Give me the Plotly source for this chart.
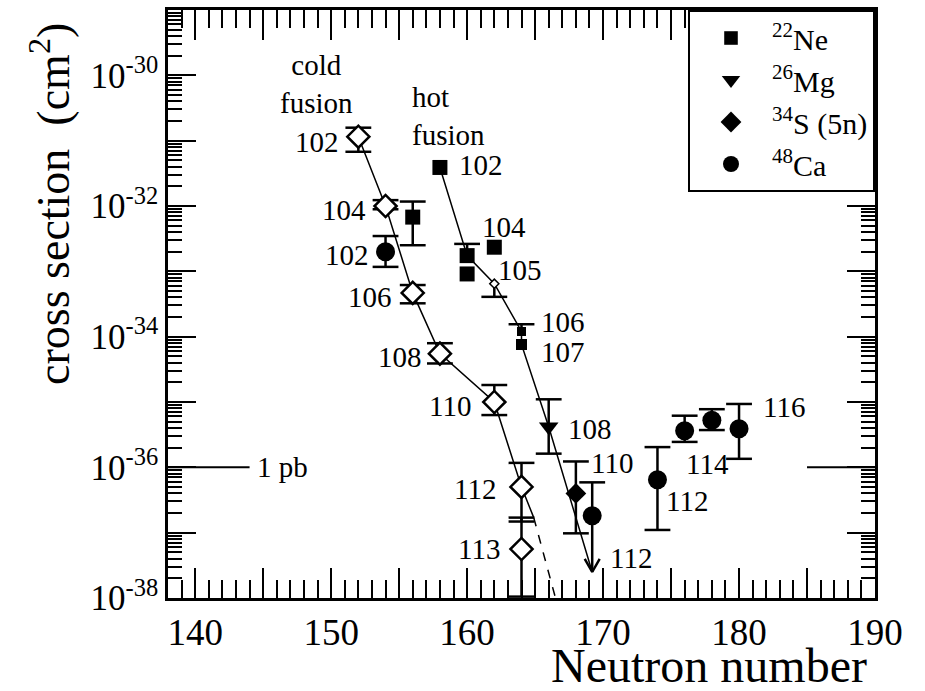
import math
import plotly.graph_objects as go

# ---------------------------------------------------------------------------
# Data: neutron number N, cross section sigma (cm^2), error limits, element Z
# (None = no limit drawn on that side)
# ---------------------------------------------------------------------------

# Cold-fusion residues (open diamonds)
cold_N = [152, 154, 156, 158, 162, 164, 164]
cold_sigma = [1.15e-31, 1.0e-32, 4.68e-34, 5.5e-35, 1.0e-35, 5.01e-37, 5.62e-38]
cold_upper = [1.58e-31, 1.23e-32, 6.17e-34, 7.94e-35, 1.82e-35, 1.17e-36, 1.70e-37]
cold_lower = [6.76e-32, 8.91e-33, 3.24e-34, 3.89e-35, 6.31e-36, 1.48e-37, 1.05e-38]
cold_Z = ["102", "104", "106", "108", "110", "112", "113"]

# 22Ne-induced reactions (filled squares)
ne_N = [156, 158, 160, 160, 162, 164, 164]
ne_sigma = [6.76e-33, 3.89e-32, 1.74e-33, 9.12e-34, 2.34e-33, 1.20e-34, 7.59e-35]
ne_upper = [1.17e-32, None, 2.63e-33, None, None, 1.55e-34, None]
ne_lower = [2.51e-33, None, None, None, None, None, None]
ne_Z = ["", "102", "", "", "104", "106", "107"]

# Element 105 point on the hot-fusion systematics
db_N = [162]
db_sigma = [6.46e-34]
db_upper = [None]
db_lower = [4.07e-34]
db_Z = ["105"]

# 26Mg-induced reaction (filled triangle)
mg_N = [166]
mg_sigma = [4.17e-36]
mg_upper = [1.10e-35]
mg_lower = [1.62e-36]
mg_Z = ["108"]

# 34S-induced reaction, 5n channel (filled diamond)
s_N = [168]
s_sigma = [3.98e-37]
s_upper = [1.23e-36]
s_lower = [9.77e-38]
s_Z = ["110"]

# 48Ca-induced reactions (filled circles)
ca_N = [154, 169.2, 174, 176, 178, 180]
ca_sigma = [2.0e-33, 1.82e-37, 6.46e-37, 3.63e-36, 5.25e-36, 3.89e-36]
ca_upper = [3.47e-33, 5.89e-37, 2.04e-36, 6.17e-36, 7.76e-36, 9.33e-36]
ca_lower = [1.17e-33, None, 1.10e-37, 2.45e-36, 3.72e-36, 1.35e-36]
ca_Z = ["102", "112", "112", "114", "", "116"]

# Open lower end of the 48Ca (Z=112) measurement at N=169.2
ca_limit_N = 169.2
ca_limit_sigma = 2.5e-38

# Systematics curves
cold_curve_N = [152, 154, 156, 158, 162, 164, 164.9]
cold_curve_sigma = [1.15e-31, 1.0e-32, 4.68e-34, 5.5e-35, 1.0e-35, 5.01e-37, 1.70e-37]
cold_extrap_N = [164.9, 166.5]
cold_extrap_sigma = [1.70e-37, 1.0e-38]

hot_curve_N = [158, 160, 162, 164, 164, 166, 169.2]
hot_curve_sigma = [3.89e-32, 1.74e-33, 6.46e-34, 1.20e-34, 7.59e-35, 4.17e-36, 2.5e-38]

PICOBARN = 1e-36  # cm^2

# ---------------------------------------------------------------------------
FONT = "Liberation Serif"
INK = "black"
CAP_HALF = 0.95      # half width of error-bar caps, in neutron-number units
BAR_WIDTH = 2.5


def bar_trace(ns, sig, up, lo):
    """Vertical error bars with caps, built from the limits (one-sided allowed)."""
    xs, ys = [], []
    for n, s, u, l in zip(ns, sig, up, lo):
        if u is None and l is None:
            continue
        top = u if u is not None else s
        bot = l if l is not None else s
        xs += [n, n, None]
        ys += [top, bot, None]
        for lim in (u, l):
            if lim is not None:
                xs += [n - CAP_HALF, n + CAP_HALF, None]
                ys += [lim, lim, None]
    return go.Scatter(x=xs, y=ys, mode="lines", line=dict(color=INK, width=BAR_WIDTH),
                      showlegend=False, hoverinfo="skip")


def guide(xs, ys, width=1.5, dash="solid"):
    return go.Scatter(x=xs, y=ys, mode="lines", line=dict(color=INK, width=width, dash=dash),
                      showlegend=False, hoverinfo="skip")


fig = go.Figure()

# systematics lines
fig.add_trace(guide(cold_curve_N, cold_curve_sigma))
fig.add_trace(guide(cold_extrap_N, cold_extrap_sigma, dash="dash"))
fig.add_trace(guide(hot_curve_N, hot_curve_sigma))

# 1 pb reference marks at both frame edges
fig.add_trace(guide([138, 144], [PICOBARN, PICOBARN], width=2))
fig.add_trace(guide([185, 190], [PICOBARN, PICOBARN], width=2))

# error bars
for ns, sig, up, lo in [(cold_N, cold_sigma, cold_upper, cold_lower),
                        (ne_N, ne_sigma, ne_upper, ne_lower),
                        (db_N, db_sigma, db_upper, db_lower),
                        (mg_N, mg_sigma, mg_upper, mg_lower),
                        (s_N, s_sigma, s_upper, s_lower),
                        (ca_N, ca_sigma, ca_upper, ca_lower)]:
    fig.add_trace(bar_trace(ns, sig, up, lo))

# open-ended bar with arrow head for the 48Ca Z=112 point
i112 = ca_N.index(ca_limit_N)
head_dx, head_dlog = 0.55, 0.2
head_up = ca_limit_sigma * 10 ** head_dlog
fig.add_trace(go.Scatter(
    x=[ca_limit_N, ca_limit_N, None, ca_limit_N - head_dx, ca_limit_N, ca_limit_N + head_dx],
    y=[ca_sigma[i112], ca_limit_sigma, None, head_up, ca_limit_sigma, head_up],
    mode="lines", line=dict(color=INK, width=BAR_WIDTH), showlegend=False, hoverinfo="skip"))

# markers
fig.add_trace(go.Scatter(x=cold_N, y=cold_sigma, mode="markers", showlegend=False,
                         marker=dict(symbol="diamond", size=17, color="white", opacity=1,
                                     line=dict(color=INK, width=2.5))))
fig.add_trace(go.Scatter(x=db_N, y=db_sigma, mode="markers", showlegend=False,
                         marker=dict(symbol="diamond", size=7, color="white", opacity=1,
                                     line=dict(color=INK, width=1.5))))
fig.add_trace(go.Scatter(x=ne_N, y=ne_sigma, mode="markers", name="<sup>22</sup>Ne",
                         marker=dict(symbol="square", size=[15, 15, 15, 15, 15, 9, 11],
                                     color=INK, opacity=1, line=dict(width=0))))
fig.add_trace(go.Scatter(x=mg_N, y=mg_sigma, mode="markers", name="<sup>26</sup>Mg",
                         marker=dict(symbol="triangle-down", size=17, color=INK, opacity=1,
                                     line=dict(width=0))))
fig.add_trace(go.Scatter(x=s_N, y=s_sigma, mode="markers", name="<sup>34</sup>S (5n)",
                         marker=dict(symbol="diamond", size=16, color=INK, opacity=1,
                                     line=dict(width=0))))
fig.add_trace(go.Scatter(x=ca_N, y=ca_sigma, mode="markers", name="<sup>48</sup>Ca",
                         marker=dict(symbol="circle", size=19, color=INK, opacity=1,
                                     line=dict(width=0))))

# element labels next to their points (pixel offsets)
annotations = []


def label(n, sigma, text, dx, dy):
    if text:
        annotations.append(dict(x=n, y=math.log10(sigma), xref="x", yref="y", text=text,
                                showarrow=False, xshift=dx, yshift=dy,
                                font=dict(family=FONT, size=29, color=INK)))


for n, sg, z, (dx, dy) in zip(cold_N, cold_sigma, cold_Z,
                              [(-41, -5), (-42, -4), (-43, -4), (-40, -3), (-44, -4),
                               (-47, -2), (-43, 0)]):
    label(n, sg, z, dx, dy)
for n, sg, z, (dx, dy) in zip(ne_N, ne_sigma, ne_Z,
                              [(0, 0), (41, 2), (0, 0), (0, 0), (10, 20), (41, 9), (41, -8)]):
    label(n, sg, z, dx, dy)
label(db_N[0], db_sigma[0], db_Z[0], 26, 14)
label(mg_N[0], mg_sigma[0], mg_Z[0], 41, -2)
label(s_N[0], s_sigma[0], s_Z[0], 36, 30)
for n, sg, z, (dx, dy) in zip(ca_N, ca_sigma, ca_Z,
                              [(-39, -3), (39, -42), (30, -21), (23, -33), (0, 0), (45, 22)]):
    label(n, sg, z, dx, dy)

annotations += [
    dict(x=148.9, y=-30.13, xref="x", yref="y", text="cold<br>fusion", showarrow=False,
         align="center", font=dict(family=FONT, size=29, color=INK)),
    dict(x=155.8, y=-30.62, xref="x", yref="y", text="hot<br>fusion", showarrow=False,
         xanchor="left", align="left", font=dict(family=FONT, size=29, color=INK)),
    dict(x=144.4, y=math.log10(PICOBARN), xref="x", yref="y", text="1 pb", showarrow=False,
         xanchor="left", font=dict(family=FONT, size=29, color=INK)),
    dict(x=0.765, y=0, xref="paper", yref="paper", xanchor="center", yanchor="middle",
         yshift=-67, text="Neutron number", showarrow=False,
         font=dict(family=FONT, size=48, color=INK)),
    dict(x=-0.167, y=0.67, xref="paper", yref="paper", xanchor="center", yanchor="middle",
         textangle=-90, text="cross section  (cm<sup>2</sup>)", showarrow=False,
         font=dict(family=FONT, size=46, color=INK)),
]

x_ticks = list(range(140, 191, 5))
x_text = [str(v) if v % 10 == 0 else "" for v in x_ticks]
y_exps = list(range(-38, -28))
y_ticks = [10.0 ** e for e in y_exps]
y_text = [f"10<sup>{e}</sup>" if e % 2 == 0 else "" for e in y_exps]

fig.update_layout(
    width=925, height=691,
    margin=dict(l=168, r=50, t=7, b=93),
    paper_bgcolor="white", plot_bgcolor="white",
    font=dict(family=FONT, color=INK, size=30),
    annotations=annotations,
    legend=dict(x=1, y=1, xanchor="right", yanchor="top", bgcolor="white",
                bordercolor=INK, borderwidth=2, font=dict(family=FONT, size=30, color=INK),
                itemwidth=72, tracegroupgap=0),
)
fig.update_xaxes(
    range=[138, 190], tickmode="array", tickvals=x_ticks, ticktext=x_text,
    ticks="inside", ticklen=30, tickwidth=2, tickcolor=INK,
    showline=True, linewidth=2.5, linecolor=INK, mirror="allticks",
    showgrid=False, zeroline=False, tickfont=dict(family=FONT, size=37, color=INK),
    minor=dict(tickmode="linear", tick0=138, dtick=1, ticks="inside", ticklen=18,
               tickwidth=2, tickcolor=INK, showgrid=False),
)
fig.update_yaxes(
    type="log", range=[-38, -29], tickmode="array", tickvals=y_ticks, ticktext=y_text,
    ticks="inside", ticklen=28, tickwidth=2, tickcolor=INK,
    showline=True, linewidth=2.5, linecolor=INK, mirror="allticks",
    showgrid=False, zeroline=False, tickfont=dict(family=FONT, size=35, color=INK),
    minor=dict(dtick="D1", ticks="inside", ticklen=14, tickwidth=2, tickcolor=INK,
               showgrid=False),
)

fig.write_html("out.html")
